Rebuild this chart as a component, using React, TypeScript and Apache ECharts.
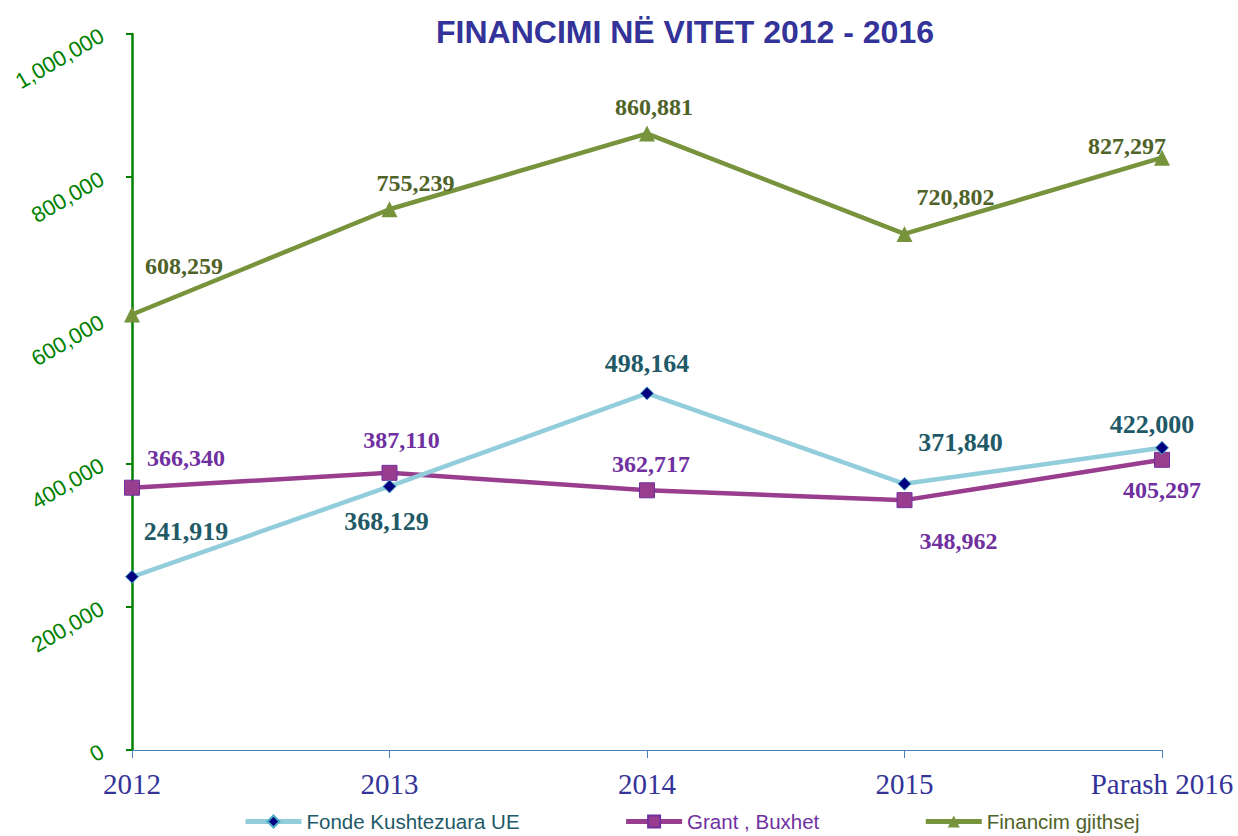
import React, { useEffect, useRef } from "react";
import * as echarts from "echarts";

const categories = ["2012", "2013", "2014", "2015", "Parash 2016"];
const fondeUE = [241919, 368129, 498164, 371840, 422000];
const grantBuxhet = [366340, 387110, 362717, 348962, 405297];
const financimGjithsej = [608259, 755239, 860881, 720802, 827297];

const fondeOffsets = [[54, -45], [-3, 35], [0, -30], [56, -41], [-10, -23]];
const grantOffsets = [[54, -30], [12, -33], [4, -26], [54, 41], [0, 30]];
const financimOffsets = [[52, -48], [26, -26], [7, -27], [51, -37], [-35, -12]];

const fmt = (v: number) => v.toLocaleString("en-US");

function withOffsets(values: number[], offsets: number[][]) {
  return values.map((v, i) => ({ value: v, label: { offset: offsets[i] } }));
}

export default function App() {
  const ref = useRef<HTMLDivElement>(null);
  useEffect(() => {
    document.body.style.margin = "0";
    const chart = echarts.init(ref.current!, null, { renderer: "svg" });
    const labelBase = {
      show: true,
      position: "inside",
      fontFamily: "Liberation Serif, Times New Roman, serif",
      fontWeight: "bold",
      formatter: (p: any) => fmt(p.value),
    };
    chart.setOption({
      animation: false,
      backgroundColor: "#ffffff",
      title: {
        text: "FINANCIMI NË VITET 2012 - 2016",
        left: 680,
        textAlign: "center",
        top: 11,
        textStyle: {
          fontFamily: "Liberation Sans, Arial, sans-serif",
          fontWeight: "bold",
          fontSize: 32,
          color: "#333399",
        },
      },
      legend: {
        top: 806,
        left: 238,
        itemGap: 104,
        itemWidth: 56,
        itemHeight: 15,
        textStyle: {
          fontFamily: "Liberation Sans, Arial, sans-serif",
          fontSize: 20.5,
        },
        data: [
          { name: "Fonde Kushtezuara UE", textStyle: { color: "#215967" }, lineStyle: { width: 5 } },
          { name: "Grant , Buxhet", textStyle: { color: "#7030A0" }, lineStyle: { width: 5 } },
          { name: "Financim gjithsej", textStyle: { color: "#4F6228" }, lineStyle: { width: 5 } },
        ],
      },
      grid: { left: 132, right: 76, top: 34, bottom: 86 },
      xAxis: {
        type: "category",
        data: categories,
        boundaryGap: false,
        axisLine: { lineStyle: { color: "#4A7EBB", width: 1 } },
        axisTick: { show: true, length: 8, lineStyle: { color: "#4A7EBB" } },
        axisLabel: {
          fontFamily: "Liberation Serif, Times New Roman, serif",
          fontSize: 29,
          color: "#333399",
          margin: 19,
        },
      },
      yAxis: {
        type: "value",
        min: 0,
        max: 1000000,
        interval: 200000,
        splitLine: { show: false },
        axisLine: { show: true, lineStyle: { color: "#008000", width: 2.5 } },
        axisTick: { show: true, length: 6, lineStyle: { color: "#008000", width: 2 } },
        axisLabel: {
          rotate: 30,
          fontFamily: "Liberation Sans, Arial, sans-serif",
          fontSize: 22,
          color: "#008000",
          margin: 30,
          formatter: (v: number) => fmt(v),
        },
      },
      series: [
        {
          name: "Fonde Kushtezuara UE",
          type: "line",
          data: withOffsets(fondeUE, fondeOffsets),
          symbol: "diamond",
          symbolSize: 13,
          lineStyle: { color: "#92CDDC", width: 4.5 },
          itemStyle: { color: "#000080", borderColor: "#4BACC6", borderWidth: 1 },
          label: { ...labelBase, fontSize: 26, color: "#215967" },
          z: 3,
        },
        {
          name: "Grant , Buxhet",
          type: "line",
          data: withOffsets(grantBuxhet, grantOffsets),
          symbol: "rect",
          symbolSize: 15,
          lineStyle: { color: "#993D8F", width: 4.5 },
          itemStyle: { color: "#993D8F", borderColor: "#7030A0", borderWidth: 1 },
          label: { ...labelBase, fontSize: 24, color: "#7030A0" },
          z: 2,
        },
        {
          name: "Financim gjithsej",
          type: "line",
          data: withOffsets(financimGjithsej, financimOffsets),
          symbol: "triangle",
          symbolSize: 16,
          lineStyle: { color: "#77933C", width: 4.5 },
          itemStyle: { color: "#77933C" },
          label: { ...labelBase, fontSize: 24, color: "#4F6228" },
          z: 2,
        },
      ],
    });
    return () => chart.dispose();
  }, []);
  return <div ref={ref} style={{ width: 1238, height: 836 }} />;
}
